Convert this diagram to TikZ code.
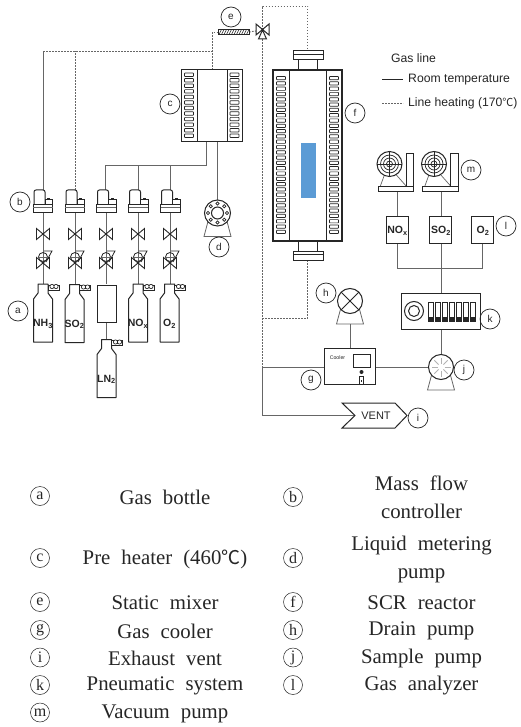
\documentclass[tikz,border=0pt]{standalone}
\usepackage{fontspec}
\setmainfont{Liberation Serif}
\setsansfont{Liberation Sans}
\newfontfamily\cjkf{Noto Sans CJK SC}
\usetikzlibrary{calc}
\definecolor{pipe}{HTML}{666666}
\definecolor{ink}{HTML}{262626}
\definecolor{catalyst}{HTML}{5B9BD5}
\tikzset{
  x=1pt,y=-1pt,
  pipeline/.style={draw=pipe,line width=1pt},
  heated/.style={draw=pipe,line width=0.95pt,dash pattern=on 1.7pt off 1.3pt},
  shapeline/.style={draw=ink,line width=1pt},
  thinline/.style={draw=pipe,line width=0.7pt},
  tag/.style={circle,draw=ink,line width=0.7pt,minimum size=20pt,inner sep=0pt,font=\sffamily\fontsize{10}{10}\selectfont,text=ink},
  anchorpt/.style={inner sep=0pt,minimum size=0pt},
  keytag/.style={circle,draw=ink,line width=0.5pt,minimum size=19pt,inner sep=0pt,font=\fontsize{16}{16}\selectfont,text=ink},
  keytext/.style={align=center,font=\fontsize{20.8}{28}\selectfont,text=ink,inner sep=0pt},
  gaslabel/.style={font=\sffamily\bfseries\fontsize{10.5}{11}\selectfont,text=ink,inner sep=0pt},
  legendtext/.style={font=\sffamily\fontsize{12.2}{12}\selectfont,text=ink,inner sep=0pt,anchor=west},
}
% mass flow controller centred on x, top at y
\newcommand{\mfcunit}[3]{%
  \coordinate (#1top) at (#2,#3);
  \coordinate (#1bot) at (#2,#3+23);
  \draw[shapeline,fill=white,rounded corners=2pt] (#2-9,#3+14) -- (#2-9,#3) -- (#2+2,#3) -- (#2+2,#3+14);
  \draw[shapeline,fill=white] (#2+2,#3+10) rectangle (#2+9.5,#3+15);
  \fill[ink] (#2+4,#3+8) rectangle (#2+7,#3+10);
  \draw[shapeline,fill=white] (#2-10,#3+15) rectangle (#2+9.5,#3+23);
  \draw[thinline] (#2-10,#3+17.5) -- (#2+9.5,#3+17.5);
}
% block valve
\newcommand{\bvalve}[2]{%
  \draw[shapeline,line width=0.9pt] (#1-6.5,#2-5.5) -- (#1+6.5,#2+5.5) -- (#1+6.5,#2-5.5) -- (#1-6.5,#2+5.5) -- cycle;
}
% regulating valve
\newcommand{\rvalve}[2]{%
  \bvalve{#1}{#2}
  \draw[shapeline,line width=0.8pt] (#1+1,#2-12) -- (#1+9,#2-12) -- (#1+3,#2-1);
  \draw[shapeline,line width=0.8pt] (#1,#2-6) circle (4.5);
  \draw[thinline] (#1-4.5,#2-6) -- (#1+4.5,#2-6);
}
% bottle
\newcommand{\bottle}[5]{%
  \coordinate (#1top) at (#2,#3);
  \draw[shapeline,line join=round,fill=white] (#2-5,#3) -- (#2+5,#3) -- (#2+5,#3+9) -- (#2+9.5,#3+15) -- (#2+9.5,#3+58) -- (#2-9.5,#3+58) -- (#2-9.5,#3+15) -- (#2-5,#3+9) -- cycle;
  \draw[shapeline,line width=0.7pt,fill=white] (#2+5,#3+1) rectangle (#2+16,#3+6);
  \draw[shapeline,line width=0.7pt,fill=white] (#2+9,#3+2.5) circle (2.1) (#2+13,#3+2.5) circle (2.1);
  \node[gaslabel] at (#2+#5,#3+40) {#4};
}
% horizontal coil elements
\newcommand{\coilstack}[5]{% x1 x2 ystart step count
  \foreach \ci in {1,...,#5}{
    \draw[shapeline,line width=0.7pt,rounded corners=0.6pt] (#1,{#3+(\ci-1)*#4}) rectangle (#2,{#3+(\ci-1)*#4+#4*0.62});
  }
}
% pump triangle
\newcommand{\pumpbase}[4]{% cx cy r baseY
  \draw[thinline,line width=0.8pt] (#1-#3*0.72,#2+#3*0.6) -- (#1-#3-0.5,#4) -- (#1+#3+0.5,#4) -- (#1+#3*0.72,#2+#3*0.6);
}
% vacuum pump
\newcommand{\vacpump}[3]{% name cx (circle) plate-left
  \draw[thinline] (#2-4,172) -- (#3+2,187);
  \draw[thinline] (#2+6,174) -- (#3+29,187);
  \draw[shapeline,fill=white] (#2,164) circle (12.5);
  \draw[shapeline,line width=0.7pt] (#2,164) circle (9) (#2,164) circle (6) (#2,164) circle (3);
  \draw[shapeline,line width=0.6pt] (#2-12.5,164) -- (#2+12.5,164) (#2,151.5) -- (#2,176.5);
  \draw[shapeline,fill=white] (#3+28,153.5) rectangle (#3+35.5,187);
  \draw[shapeline,fill=white] (#3,187) rectangle (#3+35.5,192);
  \coordinate (#1) at (#3+19.5,192);
}
\begin{document}
\begin{tikzpicture}
\useasboundingbox (0,0) rectangle (521,727);
\fill[white] (0,0) rectangle (521,727);

% ---------- named ports
\coordinate (bendA) at (43,51);
\coordinate (bendB) at (75.5,51);
\coordinate (bendC) at (212.5,51);
\coordinate (bendD) at (212.5,32);
\coordinate (mixL) at (218,32);
\coordinate (mixR) at (249,32);
\coordinate (valve) at (262.5,30);
\coordinate (topL) at (262.5,6);
\coordinate (topR) at (307.7,6);
\coordinate (rTop) at (307.7,51);
\coordinate (rBot) at (307.7,260);
\coordinate (rTurn) at (307.7,318);
\coordinate (rTurnL) at (262.5,318);
\coordinate (junc) at (262.5,367);
\coordinate (ventBend) at (262.5,415.5);

% ---------- pipes behind the equipment
\draw[pipeline] (43,190) -- (bendA);
\draw[heated] (bendA) -- (bendC);
\draw[heated] (75.5,190) -- (bendB);
\draw[heated] (212.5,70) -- (bendC) -- (bendD) -- (mixL);
\draw[heated] (mixR) -- (valve);
\draw[heated] (valve) -- (topL) -- (topR) -- (rTop);
\draw[heated] (valve) -- (junc);
\draw[heated] (rBot) -- (rTurn) -- (rTurnL);
\draw[pipeline] (junc) -- (ventBend) -- (355,415.5);
\draw[pipeline] (junc) -- (324,367);
\draw[pipeline] (375,367) -- (428,367);
\draw[pipeline] (206.5,141) -- (206.5,165.5) -- (105.5,165.5) -- (105.5,190);
\draw[pipeline] (138,165.5) -- (138,190);
\draw[pipeline] (170.5,165.5) -- (170.5,190);
\draw[pipeline] (217.5,141) -- (217.5,201);
\draw[pipeline] (397.5,243) -- (397.5,268.5) -- (482,268.5) -- (482,243);
\draw[pipeline] (441,243) -- (441,293);
\draw[pipeline] (441,329) -- (441,354);
\draw[pipeline] (350,324) -- (350,348);
\draw[pipeline] (397.5,192) -- (397.5,217);
\draw[pipeline] (441,192) -- (441,217);
\foreach \xx in {43,75,106,138,170}{
  \draw[pipeline] (\xx,213) -- (\xx,284);
}
\draw[pipeline] (106.5,322) -- (106.5,339);

% ---------- mass flow controllers
\mfcunit{mA}{43}{190}
\mfcunit{mB}{75}{190}
\mfcunit{mC}{106.5}{190}
\mfcunit{mD}{138.5}{190}
\mfcunit{mE}{170.5}{190}

% ---------- valves
\foreach \xx in {43,75,106,138,170}{
  \bvalve{\xx}{234}
  \rvalve{\xx}{263}
}

% ---------- bottles
\bottle{bA}{43}{284}{NH\textsubscript{3}}{0}
\bottle{bB}{74.5}{284.5}{SO\textsubscript{2}}{0}
\bottle{bC}{106.5}{339.5}{LN\textsubscript{2}}{0}
\bottle{bD}{138}{284}{NO\textsubscript{x}}{0}
\bottle{bE}{169.5}{284}{O\textsubscript{2}}{0}
\draw[shapeline,fill=white] (97,285) rectangle (116,322);

% ---------- pre heater
\draw[shapeline,line width=1.2pt,fill=white] (181.5,69.5) rectangle (242.5,141.5);
\draw[shapeline] (197,69.5) -- (197,141.5) (227,69.5) -- (227,141.5);
\coilstack{184.5}{193.5}{73}{5.55}{12}
\coilstack{230}{239}{73}{5.55}{12}

% ---------- metering pump
\pumpbase{217.5}{213}{13}{236.5}
\draw[shapeline,fill=white] (217.5,213) circle (13);
\draw[shapeline] (217.5,213) circle (6);
\foreach \ang in {0,45,...,315}{
  \draw[shapeline,line width=0.7pt,fill=white] ($(217.5,213)+(\ang:9.5)$) circle (1.6);
}

% ---------- static mixer
\draw[shapeline,line width=0.7pt,fill=white] (218,29.5) rectangle (249,34.5);
\foreach \xx in {219,221.5,...,248}{
  \draw[shapeline,line width=0.6pt] (\xx,34.5) -- (\xx+2.5,29.5);
}

% ---------- three-way valve
\draw[shapeline,fill=white] (256,24) -- (269,35) -- (269,24) -- (256,35) -- cycle;
\draw[shapeline,fill=white] (262.5,30) -- (258.5,39) -- (266.5,39) -- cycle;

% ---------- SCR reactor
\draw[shapeline,fill=white] (298.5,60) rectangle (317.5,70);
\draw[shapeline,fill=white] (293,51) rectangle (323,60);
\draw[shapeline,line width=1.2pt] (293,54.5) -- (323,54.5);
\draw[shapeline,fill=white] (298.5,241) rectangle (317.5,251);
\draw[shapeline,fill=white] (293,251) rectangle (323,260);
\draw[shapeline,line width=1.2pt] (293,254.5) -- (323,254.5);
\draw[shapeline,line width=1.2pt,fill=white] (273,70) rectangle (342,241);
\draw[shapeline] (289,70) -- (289,241) (326,70) -- (326,241);
\coilstack{276.5}{285.5}{76.5}{5.3}{30}
\coilstack{329.5}{338.5}{76.5}{5.3}{30}
\fill[catalyst] (301,143) rectangle (316,198.5);

% ---------- drain pump
\pumpbase{350}{301}{13}{324}
\draw[shapeline,fill=white] (350,301) circle (12.5);
\draw[shapeline] (341.2,292.2) -- (358.8,309.8) (341.2,309.8) -- (358.8,292.2);

% ---------- cooler
\draw[shapeline,fill=white] (324,348.5) rectangle (375,384.5);
\node[font=\sffamily\fontsize{5.2}{5}\selectfont,text=ink,inner sep=0pt] at (337.5,358) {Cooler};
\draw[shapeline] (353.5,354) rectangle (370,367.5);
\fill[ink] (361.5,372) circle (2);
\draw[shapeline,line width=0.7pt] (359.5,376) rectangle (363.5,384);
\fill[ink] (360.7,379.5) rectangle (362.3,382);

% ---------- sample pump
\pumpbase{441}{367}{13}{390}
\draw[shapeline,fill=white] (441,367) circle (12.5);
\foreach \ang in {0,45,...,315}{
  \draw[draw=black!30,line width=0.8pt] ($(441,367)+(\ang:3.5)$) -- ($(441,367)+(\ang:9.5)$);
}

% ---------- pneumatic system
\draw[shapeline,fill=white] (401,293.5) rectangle (480,329);
\draw[shapeline] (414,311) circle (9.5) (414,311) circle (5.5);
\foreach \xx in {428.5,435.5,442.5,449.5,456.5,463,470}{
  \draw[shapeline,line width=0.7pt,fill=white] (\xx,302) rectangle (\xx+5,321);
  \fill[ink] (\xx,316.5) rectangle (\xx+5,321);
}

% ---------- analyzers
\draw[shapeline] (386,217) rectangle (408.5,243);
\draw[shapeline] (429.5,217) rectangle (451.5,243);
\draw[shapeline] (471.5,217) rectangle (493,243);
\node[gaslabel] at (397.5,231) {NO\textsubscript{x}};
\node[gaslabel] at (441,231) {SO\textsubscript{2}};
\node[gaslabel] at (483,231) {O\textsubscript{2}};

% ---------- vacuum pumps
\vacpump{vA}{389.5}{378}
\vacpump{vB}{434}{422.5}

% ---------- vent
\node[anchorpt] (vent) at (376,415.5) {\sffamily\fontsize{11}{12}\selectfont\textcolor{ink}{VENT}};
\draw[shapeline] (342,403) -- (395,403) -- (407,415.5) -- (395,428) -- (342,428) -- (355,415.5) -- cycle;

% ---------- diagram tags
\node[tag] (ta) at (18,311) {a};
\node[tag] (tb) at (20,202) {b};
\node[tag] (tc) at (170,104) {c};
\node[tag] (td) at (219,247) {d};
\node[tag] (te) at (231,17) {e};
\node[tag] (tf) at (355,113) {f};
\node[tag] (tg) at (311,380) {g};
\node[tag] (th) at (326,293) {h};
\node[tag] (ti) at (418,418) {i};
\node[tag] (tj) at (464,370) {j};
\node[tag] (tk) at (490,319) {k};
\node[tag] (tl) at (506,226) {l};
\node[tag] (tm) at (471,170) {m};

% ---------- gas line legend
\node[legendtext] (glt) at (391,58) {Gas line};
\coordinate (lgA) at (382,80);
\coordinate (lgB) at (403,80);
\coordinate (lgC) at (382,103);
\coordinate (lgD) at (403,103);
\draw[shapeline] (lgA) -- (lgB);
\draw[heated] (lgC) -- (lgD);
\node[legendtext] (lg1) at (408,80) {Room temperature};
\node[legendtext] (lg2) at (408,103) {Line heating (170{\cjkf\fontsize{11}{11}\selectfont ℃})};

% ---------- key table
\def\wsp{\hspace{0.28em}}
\node[keytag] (ka) at (40,496) {a};
\node[keytext] at (165,497.5) {Gas\wsp{} bottle};
\node[keytag] (kb) at (293,497) {b};
\node[keytext] at (421.5,497) {Mass\wsp{} flow\\controller};
\node[keytag] (kc) at (40,558) {c};
\node[keytext] at (165,559) {Pre\wsp{} heater\wsp{} (460{\cjkf\fontsize{19}{19}\selectfont ℃})};
\node[keytag] (kd) at (293,558) {d};
\node[keytext] at (421.5,559) {Liquid\wsp{} metering\\pump};
\node[keytag] (ke) at (40,602) {e};
\node[keytext] at (165,603) {Static\wsp{} mixer};
\node[keytag] (kf) at (293,602) {f};
\node[keytext] at (421.5,603) {SCR\wsp{} reactor};
\node[keytag] (kg) at (40,630) {g};
\node[keytext] at (165,631) {Gas\wsp{} cooler};
\node[keytag] (kh) at (293,630) {h};
\node[keytext] at (421.5,631) {Drain\wsp{} pump};
\node[keytag] (ki) at (40,657.5) {i};
\node[keytext] at (165,658.5) {Exhaust\wsp{} vent};
\node[keytag] (kj) at (293,657.5) {j};
\node[keytext] at (421.5,658.5) {Sample\wsp{} pump};
\node[keytag] (kk) at (40,685) {k};
\node[keytext] at (165,686) {Pneumatic\wsp{} system};
\node[keytag] (kl) at (293,685) {l};
\node[keytext] at (421.5,686) {Gas\wsp{} analyzer};
\node[keytag] (km) at (40,712.5) {m};
\node[keytext] at (165,714) {Vacuum\wsp{} pump};
\end{tikzpicture}
\end{document}
